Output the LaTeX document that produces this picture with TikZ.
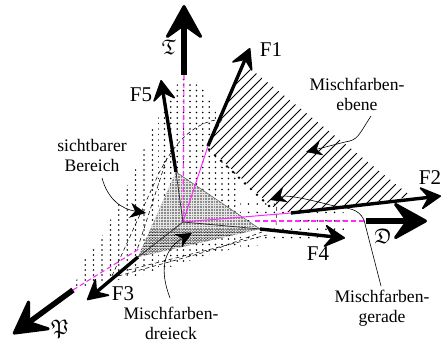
\documentclass[tikz,border=0pt]{standalone}
\usepackage{amssymb}
\usepackage{fontspec}
\setmainfont{Liberation Serif}
\usetikzlibrary{arrows.meta,calc}
\definecolor{mag}{RGB}{255,40,255}
\tikzset{
  axisline/.style={line width=5.5pt,-{Stealth[length=38pt,width=42pt,inset=15pt,round,line width=3pt]}},
  vecline/.style={line width=3.4pt,-{Stealth[length=23pt,width=25pt,inset=9pt,round,line width=1.6pt]}},
  thinline/.style={line width=.7pt,black!85},
  magsolid/.style={line width=1pt,mag},
  magdash/.style={line width=1.1pt,mag,dash pattern=on 5pt off 3pt},
  blackdash/.style={line width=.55pt,dash pattern=on 4pt off 3pt},
  leader/.style={line width=.6pt,-{Stealth[length=16pt,width=15pt,inset=5pt]}},
  lab/.style={inner sep=0pt,align=center,font=\fontsize{17.6}{19.5}\selectfont},
  big/.style={inner sep=0pt,font=\fontsize{21}{22}\selectfont},
}
\begin{document}
\begin{tikzpicture}[x=1pt,y=-1pt]
\useasboundingbox (0,0) rectangle (441,342);
% named points
\coordinate (O) at (183,222);
\coordinate (Tlow) at (184,75); \coordinate (Ttip) at (184,5);
\coordinate (Dlow) at (366,221); \coordinate (Dtip) at (427,221);
\coordinate (Plow) at (73,290); \coordinate (Ptip) at (13,334);
\coordinate (F1a) at (208,146); \coordinate (F1b) at (250,48);
\coordinate (F2a) at (291,213); \coordinate (F2b) at (441,196);
\coordinate (F3a) at (138,257); \coordinate (F3b) at (87,300);
\coordinate (F4a) at (260,229); \coordinate (F4b) at (345,238);
\coordinate (F5a) at (176,172); \coordinate (F5b) at (161,80);
% coarse dot screens: visible region
\begin{scope}
\clip (183,76) -- (205,90) -- (217,115) -- (208,146) -- (276,205) -- (358,214) -- (345,235) -- (293,240) -- (222,251) -- (150,273) -- (73,290) -- (83,262) -- (102,236) -- (118,205) -- (136,168) -- (160,110) -- cycle;
\begin{scope}
\clip (60,70) rectangle (158,295);
\foreach \i in {0,...,12}{\foreach \j in {0,...,45}{
  \fill (60+\i*8.4,70+\j*5) circle (.88pt);
}}
\end{scope}
\begin{scope}
\clip (158,70) rectangle (240,295);
\foreach \i in {0,...,13}{\foreach \j in {0,...,40}{
  \fill (158+\i*6.4,74+\j*5.5) circle (.88pt);
}}
\end{scope}
\begin{scope}
\clip (240,195) rectangle (365,295);
\foreach \i in {0,...,14}{\foreach \j in {0,...,8}{
  \fill (240+\i*8.6,204+\j*8.4) circle (.88pt);
}}
\end{scope}
\end{scope}
% hatched plane
\begin{scope}
\clip (252,70) -- (412,197) -- (291,213) -- (271,206) -- (208,147) -- (243,68) -- cycle;
\foreach \k in {0,...,36}{
  \draw[line width=.8pt] (70+\k*10,230) -- ++(190,-190);
}
\end{scope}
% gray triangle with fine screen
\fill[black!45] (F5a) -- (F4a) -- (F3a) -- cycle;
\begin{scope}
\clip (F5a) -- (F4a) -- (F3a) -- cycle;
\foreach \i in {0,...,47}{
  \draw[line width=.6pt,black!10] (136+\i*2.75,170) -- ++(0,90);
}
\foreach \j in {0,...,32}{
  \draw[line width=.6pt,black!10] (136,170+\j*2.75) -- ++(130,0);
}
\clip (130,229) rectangle (270,262);
\foreach \i in {0,...,47}{\foreach \j in {0,...,11}{
  \fill (136+\i*2.75,230+\j*2.75) circle (.7pt);
}}
\end{scope}
\draw[line width=.4pt,black!70] (F5a) -- (F4a);
% big dotted mixing line
\foreach \t in {0,...,10}{
  \fill ($(209,149.5)!\t/10!(269,206)$) circle (1.4pt);
}
% dashed borders
\draw[blackdash] (222,119) .. controls (190,122) and (172,148) .. (159,173) -- (111,278) -- (216,249) -- (262,232);
\draw[blackdash] (167,158) -- (137,250);
\draw[blackdash] (128,270) -- (267,235);
\draw[blackdash] (222,119) -- (211,140);
\draw[blackdash] (277,200) -- (276,226);
% magenta
\draw[magdash] (Tlow) -- (O);
\draw[magdash] (255,221) -- (Dlow);
\draw[magdash] (Plow) -- (139,249);
\draw[magsolid] (O) -- (F1a);
\draw[magsolid] (O) -- (F2a);
% thin continuation inside
\draw[thinline] (O) -- (F3a);
\draw[thinline] (O) -- (F4a);
\draw[thinline] (O) -- (F5a);
% axes
\draw[axisline] (Tlow) -- (Ttip);
\draw[axisline] (Dlow) -- (Dtip);
\draw[axisline] (Plow) -- (Ptip);
% vectors
\draw[vecline] (F1a) -- (F1b);
\draw[vecline] (F2a) -- (F2b);
\draw[vecline] (F3a) -- (F3b);
\draw[vecline] (F4a) -- (F4b);
\draw[vecline] (F5a) -- (F5b);
% labels
\node[big] (lT) at (169,47) {$\mathfrak{T}$};
\node[big] (lD) at (383,236) {$\mathfrak{D}$};
\node[big] (lP) at (60,329) {$\mathfrak{P}$};
\node[big] (l1) at (271,50) {F1};
\node[big] (l2) at (430,178) {F2};
\node[big] (l3) at (123,294) {F3};
\node[big] (l4) at (318,254) {F4};
\node[big] (l5) at (141,95) {F5};
\node[lab] (lE) at (357,94.5) {Mischfarben-\\ebene};
\node[lab] (lS) at (92,155.5) {sichtbarer\\Bereich};
\node[lab] (lG) at (382,308) {Mischfarben-\\gerade};
\node[lab] (lM) at (171,323.5) {Mischfarben-\\dreieck};
% leaders
\coordinate (aE) at (306,152);
\coordinate (aS) at (146,213);
\coordinate (aG) at (270,200);
\coordinate (aM) at (192,233);
\draw[leader] (371,116) .. controls (358,136) and (358,140) .. (345,142) -- (aE);
\draw[leader] (102,178) .. controls (108,200) and (122,209) .. (aS);
\draw[leader] (381,286) -- (364,220) .. controls (358,208) and (350,209) .. (330,205) .. controls (300,197) and (285,195) .. (aG);
\draw[leader] (170,298) .. controls (160,272) and (162,250) .. (aM);
\end{tikzpicture}
\end{document}
